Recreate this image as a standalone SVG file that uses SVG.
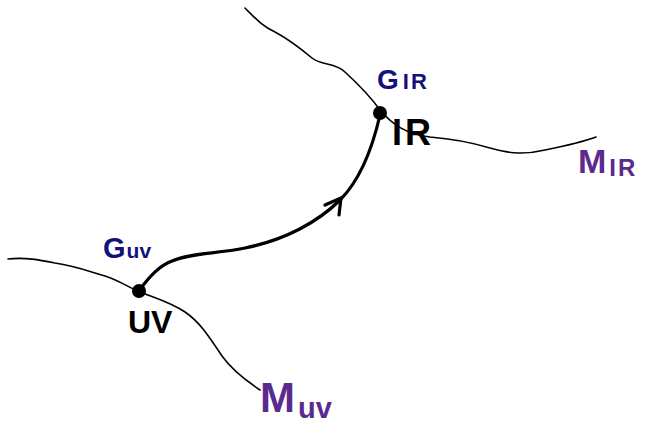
<svg xmlns="http://www.w3.org/2000/svg" width="651" height="424" viewBox="0 0 651 424">
<style>
.thin{fill:none;stroke:#000;stroke-width:1.6;stroke-linecap:round;stroke-linejoin:round}
.thick{fill:none;stroke:#000;stroke-width:3.2;stroke-linecap:round;stroke-linejoin:round}
.lbl{font-family:"Liberation Sans",Arial,sans-serif;font-weight:bold}
.g{fill:#14117a}
.m{fill:#5b2a8f}
.k{fill:#000}
</style>
<rect width="651" height="424" fill="#fff"/>
<g id="curves">
<path id="M_IR_curve" class="thin" d="M245,8 C255,18 262,26 275,32 C290,40 300,48 312,58 C322,66 335,62 345,72 C358,84 370,96 380,110 C392,124 405,134 430,137 C455,139 470,142 490,148 C505,152 520,156 545,150 C565,146 580,143 596,137"/>
<path id="M_UV_curve" class="thin" d="M8,259 C25,257 40,260 55,263 C75,266 85,270 105,276 C118,280 128,287 140,292 C155,298 170,302 185,312 C200,322 210,338 222,356 C232,370 245,380 260,390"/>
</g>
<g id="connectors">
<path class="thick" d="M139,291 C148,278 158,266 172,261 C190,253 215,254 245,248 C285,240 318,222 340,200 C360,180 372,150 380,115"/>
<path class="thick" d="M325,205 L341,198 L339,215"/>
</g>
<g id="node-GIR">
<circle cx="380" cy="113" r="7" fill="#000"/>
<text class="lbl g" x="377" y="89" font-size="28">G<tspan font-size="22" dx="4" letter-spacing="2">IR</tspan></text>
<text class="lbl k" x="392" y="145" font-size="36" letter-spacing="3">IR</text>
</g>
<g id="node-GUV">
<circle cx="139" cy="291" r="7" fill="#000"/>
<text class="lbl g" x="103" y="258" font-size="29">G<tspan font-size="21" dx="1">uv</tspan></text>
<text class="lbl k" x="128" y="333" font-size="32">UV</text>
</g>
<g id="label-MUV">
<text class="lbl m" x="260" y="412" font-size="42">M<tspan font-size="29" dx="3" dy="6">uv</tspan></text>
</g>
<g id="label-MIR">
<text class="lbl m" x="578" y="173" font-size="34">M<tspan font-size="24" dx="3" dy="3" letter-spacing="2">IR</tspan></text>
</g>
</svg>
